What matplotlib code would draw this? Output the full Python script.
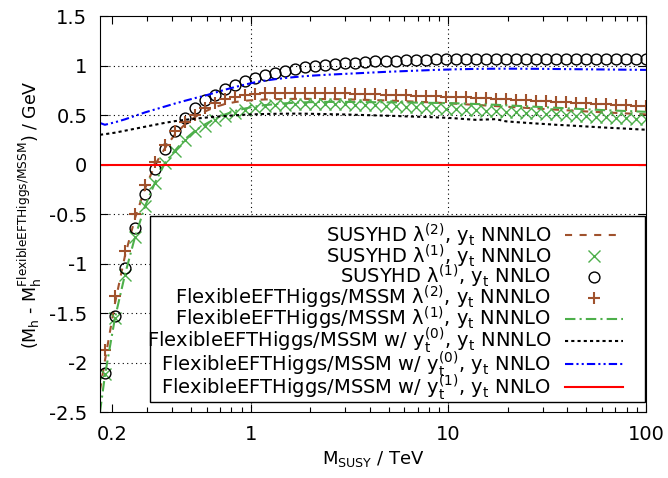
import matplotlib
matplotlib.use("Agg")
import matplotlib.pyplot as plt
from matplotlib.patches import Rectangle

# M_SUSY grid in TeV (first point only used by the lines)
msusy = [0.173, 0.1832, 0.2059, 0.2314, 0.2601, 0.2922, 0.3284, 0.3691, 0.4148, 0.4661,
         0.5238, 0.5887, 0.6616, 0.7435, 0.8356, 0.9391, 1.055, 1.186, 1.333, 1.498,
         1.683, 1.892, 2.126, 2.389, 2.685, 3.017, 3.391, 3.811, 4.282, 4.813,
         5.408, 6.078, 6.830, 7.676, 8.627, 9.694, 10.89, 12.24, 13.76, 15.46,
         17.38, 19.53, 21.94, 24.66, 27.71, 31.14, 35.00, 39.33, 44.20, 49.67,
         55.83, 62.73, 70.50, 79.23, 89.04, 100.0]
msusy_pts = msusy[1:]

# SUSYHD lambda^(2), yt NNNLO (dashed line)
susyhd_l2_nnnlo = [-2.28, -1.98, -1.40, -0.92, -0.54, -0.24, 0.0, 0.17, 0.31, 0.41,
                   0.485, 0.54, 0.585, 0.615, 0.635, 0.648, 0.656, 0.661, 0.664, 0.666,
                   0.667, 0.667, 0.666, 0.665, 0.664, 0.662, 0.66, 0.657, 0.654, 0.651,
                   0.647, 0.643, 0.639, 0.634, 0.629, 0.624, 0.618, 0.612, 0.606, 0.6,
                   0.594, 0.588, 0.582, 0.576, 0.57, 0.564, 0.558, 0.552, 0.546, 0.54,
                   0.535, 0.53, 0.525, 0.52, 0.515, 0.51]

# SUSYHD lambda^(1), yt NNNLO (crosses)
susyhd_l1_nnnlo = [-2.12, -1.545, -1.115, -0.733, -0.42, -0.186, 0.017, 0.135, 0.254, 0.338,
                   0.396, 0.45, 0.49, 0.527, 0.557, 0.578, 0.591, 0.60, 0.605, 0.61,
                   0.61, 0.61, 0.61, 0.61, 0.61, 0.608, 0.605, 0.602, 0.598, 0.594,
                   0.589, 0.584, 0.579, 0.574, 0.569, 0.564, 0.559, 0.553, 0.548, 0.543,
                   0.537, 0.532, 0.526, 0.521, 0.515, 0.509, 0.504, 0.498, 0.493, 0.487,
                   0.482, 0.476, 0.471, 0.466, 0.461]

# SUSYHD lambda^(1), yt NNLO (circles)
susyhd_l1_nnlo = [-2.11, -1.53, -1.04, -0.64, -0.30, -0.04, 0.165, 0.338, 0.474, 0.575,
                  0.652, 0.71, 0.768, 0.808, 0.845, 0.875, 0.906, 0.93, 0.953, 0.97,
                  0.985, 0.995, 1.005, 1.015, 1.025, 1.032, 1.04, 1.045, 1.05, 1.054,
                  1.058, 1.061, 1.064, 1.066, 1.068, 1.07, 1.07, 1.071, 1.071, 1.072,
                  1.072, 1.072, 1.072, 1.072, 1.072, 1.071, 1.071, 1.071, 1.07, 1.07,
                  1.07, 1.069, 1.069, 1.068, 1.068]

# FlexibleEFTHiggs/MSSM lambda^(2), yt NNNLO (plus)
feft_l2_nnnlo = [-1.876, -1.33, -0.87, -0.5, -0.2, 0.03, 0.196, 0.338, 0.43, 0.507,
                 0.575, 0.626, 0.666, 0.69, 0.705, 0.715, 0.722, 0.727, 0.73, 0.731,
                 0.731, 0.73, 0.728, 0.725, 0.722, 0.719, 0.716, 0.713, 0.71, 0.707,
                 0.704, 0.70, 0.697, 0.693, 0.69, 0.686, 0.682, 0.677, 0.673, 0.668,
                 0.664, 0.659, 0.654, 0.649, 0.644, 0.639, 0.634, 0.629, 0.624, 0.619,
                 0.613, 0.608, 0.603, 0.597, 0.592]

# FlexibleEFTHiggs/MSSM lambda^(1), yt NNNLO
feft_l1_nnnlo = [-2.5, -2.13, -1.55, -1.11, -0.73, -0.42, -0.18, 0.02, 0.145, 0.26,
                 0.345, 0.41, 0.465, 0.51, 0.545, 0.57, 0.59, 0.604, 0.614, 0.622,
                 0.628, 0.632, 0.635, 0.636, 0.636, 0.636, 0.635, 0.634, 0.633, 0.632,
                 0.631, 0.63, 0.629, 0.627, 0.626, 0.624, 0.622, 0.619, 0.615, 0.611,
                 0.607, 0.602, 0.597, 0.592, 0.587, 0.582, 0.577, 0.572, 0.567, 0.562,
                 0.557, 0.552, 0.548, 0.544, 0.54, 0.536]

# FlexibleEFTHiggs/MSSM w/ yt^(0), yt NNNLO
feft_yt0_nnnlo = [0.304, 0.31, 0.325, 0.345, 0.365, 0.385, 0.405, 0.425, 0.442, 0.455,
                  0.466, 0.477, 0.486, 0.494, 0.501, 0.507, 0.511, 0.514, 0.516, 0.517,
                  0.518, 0.517, 0.515, 0.513, 0.511, 0.509, 0.506, 0.503, 0.5, 0.497,
                  0.494, 0.49, 0.487, 0.484, 0.48, 0.476, 0.47, 0.462, 0.455, 0.458,
                  0.462, 0.44, 0.432, 0.425, 0.418, 0.412, 0.405, 0.4, 0.394, 0.388,
                  0.382, 0.376, 0.371, 0.366, 0.36, 0.355]

# FlexibleEFTHiggs/MSSM w/ yt^(0), yt NNLO
feft_yt0_nnlo = [0.423, 0.405, 0.43, 0.46, 0.495, 0.53, 0.56, 0.59, 0.62, 0.648,
                 0.675, 0.70, 0.73, 0.76, 0.787, 0.812, 0.835, 0.852, 0.866, 0.878,
                 0.888, 0.897, 0.904, 0.91, 0.915, 0.92, 0.925, 0.93, 0.935, 0.94,
                 0.944, 0.948, 0.952, 0.956, 0.96, 0.963, 0.966, 0.968, 0.97, 0.971,
                 0.972, 0.972, 0.972, 0.971, 0.971, 0.97, 0.969, 0.968, 0.967, 0.966,
                 0.965, 0.964, 0.963, 0.962, 0.961, 0.96]

# FlexibleEFTHiggs/MSSM w/ yt^(1), yt NNLO (reference, zero difference)
ref_x = [0.173, 100.0]
ref_y = [0.0, 0.0]

brown = "#a0522d"
green = "#4daf4a"

fig = plt.figure(figsize=(6.68, 4.78), dpi=100)
ax = fig.add_axes([0.1497, 0.138, 0.8173, 0.8275])

ax.plot(msusy, susyhd_l2_nnnlo, color=brown, lw=1.5, ls=(0, (3.4, 3.6)),
        label=r"SUSYHD λ$^\mathregular{(2)}$, y$_\mathregular{t}$ NNNLO")
ax.plot(msusy_pts, susyhd_l1_nnnlo, color=green, ls="none", marker="x", ms=8, mew=1.0,
        label=r"SUSYHD λ$^\mathregular{(1)}$, y$_\mathregular{t}$ NNNLO")
ax.plot(msusy_pts, susyhd_l1_nnlo, color="black", ls="none", marker="o", ms=7.8, mew=1.0,
        mfc="none", label=r"SUSYHD λ$^\mathregular{(1)}$, y$_\mathregular{t}$ NNLO")
ax.plot(msusy_pts, feft_l2_nnnlo, color=brown, ls="none", marker="+", ms=9, mew=1.5,
        label=r"FlexibleEFTHiggs/MSSM λ$^\mathregular{(2)}$, y$_\mathregular{t}$ NNNLO")
ax.plot(msusy, feft_l1_nnnlo, color=green, lw=1.5, ls=(0, (5, 2, 1, 2)),
        label=r"FlexibleEFTHiggs/MSSM λ$^\mathregular{(1)}$, y$_\mathregular{t}$ NNNLO")
ax.plot(msusy, feft_yt0_nnnlo, color="black", lw=1.5, ls=(0, (1.5, 1.5)),
        label=r"FlexibleEFTHiggs/MSSM w/ y$_\mathregular{t}^\mathregular{(0)}$, y$_\mathregular{t}$ NNNLO")
ax.plot(msusy, feft_yt0_nnlo, color="blue", lw=1.5, ls=(0, (4, 1.5, 1, 1.5, 1, 1.5)),
        label=r"FlexibleEFTHiggs/MSSM w/ y$_\mathregular{t}^\mathregular{(0)}$, y$_\mathregular{t}$ NNLO")
ax.plot(ref_x, ref_y, color="red", lw=1.5,
        label=r"FlexibleEFTHiggs/MSSM w/ y$_\mathregular{t}^\mathregular{(1)}$, y$_\mathregular{t}$ NNLO")

ax.set_xscale("log")
ax.set_xlim(0.173, 100)
ax.set_ylim(-2.5, 1.5)
ax.set_xticks([0.2, 1, 10, 100], ["0.2", "1", "10", "100"])
ax.set_yticks([-2.5, -2, -1.5, -1, -0.5, 0, 0.5, 1, 1.5],
              ["-2.5", "-2", "-1.5", "-1", "-0.5", "0", "0.5", "1", "1.5"])
ax.tick_params(which="both", direction="in", top=True, right=True, labelsize=14)
ax.tick_params(which="major", length=6, width=0.8, pad=9)
ax.tick_params(which="minor", length=3.5, width=0.8)

# gnuplot-like dotted grid
for yv in [-2, -1.5, -1, -0.5, 0.5, 1]:
    ax.axhline(yv, color="black", lw=0.8, ls=(0, (1, 3)), zorder=0)
for xv in [1, 10]:
    ax.axvline(xv, color="black", lw=0.8, ls=(0, (1, 3)), zorder=0)

ax.set_xlabel(r"M$_\mathregular{SUSY}$ / TeV", fontsize=13)
ax.set_ylabel(r"(M$_\mathregular{h}$ - M$_\mathregular{h}^\mathregular{FlexibleEFTHiggs/MSSM}$) / GeV",
              fontsize=12.5, labelpad=3.5)

# key box drawn by hand (gnuplot style, more room on the right)
ax.add_patch(Rectangle((0.0916, 0.0253), 0.9064, 0.4697, transform=ax.transAxes,
                       facecolor="white", edgecolor="black", lw=1.0, zorder=4))

leg = ax.legend(loc="lower right", bbox_to_anchor=(0.958, 0.025), markerfirst=False,
                fontsize=14, frameon=False, borderpad=0, labelspacing=-0.33,
                handlelength=3.0, handletextpad=0.7, numpoints=1, borderaxespad=0)
leg.set_zorder(5)

fig.savefig("out.png", dpi=100)
